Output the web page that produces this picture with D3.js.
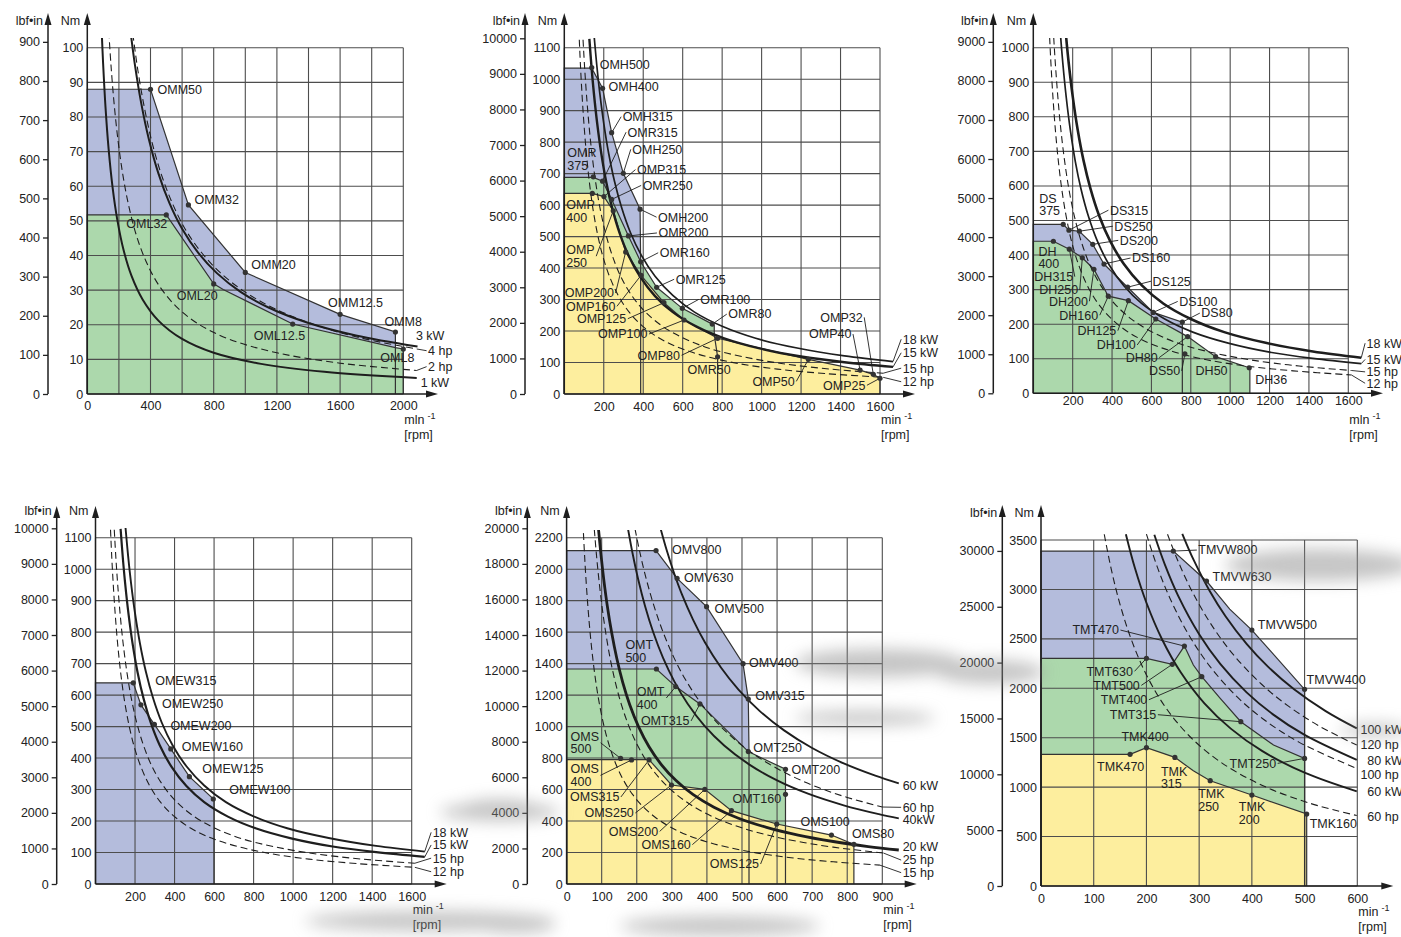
<!DOCTYPE html>
<html>
<head>
<meta charset="utf-8">
<script src="https://cdn.jsdelivr.net/npm/d3@7"></script>
<style>
  body { margin: 0; background: #fff; }
  text { font-family: Arial, "Liberation Sans", sans-serif; fill: #222; }
</style>
</head>
<body>
<svg id="chart" width="1401" height="937"></svg>
<script>
const LBF = 8.8507; // lbf-in per Nm

// ---------- panel 1 : OMM / OML ----------
const p1Blue  = [[0,0],[0,88],[400,88],[640,54.6],[1000,35.1],[1600,23],[1950,17.9],[1950,0]];
const p1Green = [[0,0],[0,51.7],[500,51.7],[800,31.8],[860,30.2],[1300,20.2],[1950,13.4],[2000,13],[2000,0]];
const p1Dots = [["OMM50",400,88],["OMM32",640,54.6],["OMM20",1000,35.1],["OMM12.5",1600,23],["OMM8",1950,17.9],
                ["OML32",500,51.7],["OML20",800,31.8],["OML12.5",1300,20.2],["OML8",2000,13]];
const kw1 = [[91,104.9],[100,95.5],[115,83],[135,70.7],[160,59.7],[190,50.3],[230,41.5],[280,34.1],[350,27.3],[450,21.2],[600,15.9],[800,11.9],[1100,8.7],[1500,6.4],[2085,4.6]];
const hp2 = [[136,104.7],[150,94.9],[170,83.7],[195,73],[225,63.3],[260,54.8],[310,45.9],[370,38.5],[450,31.6],[560,25.4],[700,20.3],[900,15.8],[1200,11.9],[1600,8.9],[2085,6.8]];
const kw3 = [[273,104.9],[300,95.5],[340,84.3],[390,73.5],[450,63.7],[520,55.1],[600,47.7],[700,40.9],[820,34.9],[970,29.5],[1150,24.9],[1400,20.5],[1700,16.9],[2090,13.7]];
const hp4 = [[288,104],[320,93.5],[360,83],[410,72.6],[470,63.2],[540,54.9],[620,47.6],[720,41],[840,35.1],[990,29.7],[1170,25],[1420,20.3],[1720,16.3],[2085,13]];
const p1Power = [["3 kW",2080,17],["4 hp",2157,12.5],["2 hp",2157,7.9],["1 kW",2110,3.4]];
const p1XTicks = [0,400,800,1200,1600,2000];
const p1NmTicks = d3.range(0, 101, 10);
const p1LbfTicks = d3.range(0, 901, 100);

// ---------- shared 18/15 kW, 15/12 hp curves (panels 2-4) ----------
const kw18 = [[152,1131],[165,1042],[180,955],[200,860],[225,764],[255,674],[290,593],[335,513],[390,441],[460,374],[550,313],[660,260],[800,215],[970,177],[1180,146],[1420,121],[1666,103]];
const kw15 = [[127,1128],[138,1038],[150,955],[167,858],[188,762],[213,672],[242,592],[280,512],[325,441],[385,372],[460,311],[550,260],[670,214],[810,177],[990,145],[1200,119],[1420,101],[1666,86]];
const hp15 = [[95,1125],[103,1037],[112,954],[125,855],[140,763],[160,668],[182,587],[210,509],[243,440],[287,372],[345,310],[410,261],[500,214],[605,177],[740,144],[900,119],[1100,97],[1350,79],[1616,66]];
const hp12 = [[76,1125],[82,1042],[90,950],[100,855],[112,763],[128,668],[146,585],[168,509],[195,438],[230,372],[275,311],[330,259],[400,214],[485,176],[590,145],[720,119],[880,97],[1080,79],[1320,65],[1616,53]];

// ---------- panel 2 : OMH / OMR / OMP ----------
const p2Blue   = [[0,0],[0,1035],[139,1035],[194,971],[240,830],[299,701],[384,587],[387,420],[387,0]];
const p2Green  = [[0,0],[0,688],[147,688],[194,676],[240,618],[325,502],[387,420],[468,339],[598,272],[750,222],[760,217],[760,188],[777,118],[777,0]];
const p2Yellow = [[0,0],[0,637],[142,637],[201,627],[248,582],[311,451],[389,377],[505,290],[607,235],[777,177],[1237,110],[1499,76],[1566,62.5],[1600,50],[1600,0]];
const p2Dots = [["OMH500",139,1037],["OMH400",194,971],["OMH315",240,830],["OMH250",299,701],["OMH200",384,587],
  ["OMR\n375",147,690],["OMR315",194,676],["OMR250",240,618],["OMR200",325,502],["OMR160",387,420],["OMR125",468,339],
  ["OMR100",598,272],["OMR80",750,222],["OMR50",777,118],
  ["OMP\n400",142,637],["OMP315",201,627],["OMP\n250",248,582],["OMP200",311,451],["OMP160",389,377],["OMP125",505,290],
  ["OMP100",607,235],["OMP80",777,177],["OMP50",1237,110],["OMP40",1499,76],["OMP32",1566,62.5],["OMP25",1600,50]];
const p2Power = [["18 kW",1715,174],["15 kW",1715,131],["15 hp",1715,82],["12 hp",1715,39]];
const p2XTicks = d3.range(200, 1601, 200);
const p2NmTicks = d3.range(0, 1101, 100);
const p2LbfTicks = d3.range(0, 10001, 1000);

// ---------- panel 3 : DS / DH ----------
const p3Blue  = [[0,0],[0,489],[152,489],[181,472],[234,469],[302,431],[359,374],[479,307],[609,234],[757,206],[757,0]];
const p3Green = [[0,0],[0,440],[102,440],[183,417],[249,392],[308,359],[381,281],[483,268],[622,215],[784,164],[926,106],[1097,74],[1100,74],[1100,0]];
const p3Dots = [["DS\n375",152,489],["DS315",181,472],["DS250",234,469],["DS200",302,431],["DS160",359,374],["DS125",479,307],
  ["DS100",609,234],["DS80",757,206],["DS50",770,114],
  ["DH\n400",102,440],["DH315",183,417],["DH250",249,392],["DH200",308,359],["DH160",381,281],["DH125",483,268],
  ["DH100",622,215],["DH80",784,164],["DH50",926,106],["DH36",1097,74]];
const p3Power = [["18 kW",1693,145],["15 kW",1693,98],["15 hp",1693,62],["12 hp",1693,29]];
const p3NmTicks = d3.range(0, 1001, 100);
const p3LbfTicks = d3.range(0, 9001, 1000);

// ---------- panel 4 : OMEW ----------
const p4Blue = [[0,0],[0,639],[191,639],[230,569],[298,507],[381,429],[475,341],[596,270],[600,270],[600,0]];
const p4Dots = [["OMEW315",191,639],["OMEW250",230,569],["OMEW200",298,507],["OMEW160",381,429],["OMEW125",475,341],["OMEW100",596,270]];
const p4Power = [["18 kW",1706,164],["15 kW",1706,124],["15 hp",1706,82],["12 hp",1706,39]];

// ---------- panel 5 : OMV / OMT / OMS ----------
const p5Blue   = [[0,0],[0,2118],[255,2118],[315,1942],[399,1762],[503,1400],[518,1175],[520,841],[520,0]];
const p5Green  = [[0,0],[0,1366],[256,1366],[311,1254],[380,1144],[518,841],[624,729],[624,0]];
const p5Yellow = [[0,0],[0,790],[235,790],[299,629],[394,601],[470,466],[599,381],[755,311],[819,252],[819,0]];
const p5Dots = [["OMV800",255,2118],["OMV630",315,1942],["OMV500",399,1762],["OMV400",503,1400],["OMV315",518,1175],
  ["OMT\n500",256,1366],["OMT\n400",311,1254],["OMT315",380,1144],["OMT250",518,841],["OMT200",624,729],["OMT160",624,570],
  ["OMS\n500",154,798],["OMS\n400",185,788],["OMS315",235,788],["OMS250",299,629],["OMS200",394,601],["OMS160",470,466],
  ["OMS125",599,381],["OMS100",755,311],["OMS80",819,252]];
const kw60a = [[268,2257],[285,2123],[305,1984],[330,1833],[360,1681],[395,1532],[440,1375],[490,1235],[550,1100],[620,976],[700,864],[790,766],[880,688],[947,639]];
const hp60a = [[195,2256],[210,2095],[228,1930],[250,1760],[275,1600],[305,1443],[340,1294],[385,1143],[435,1011],[495,889],[565,779],[640,688],[720,611],[800,550],[900,489]];
const kw40  = [[175,2257],[188,2101],[204,1936],[224,1763],[247,1599],[275,1436],[307,1287],[345,1145],[392,1008],[450,878],[520,760],[600,658],[690,572],[790,500],[890,444],[947,417]];
const kw20  = [[91,2253],[98,2092],[106,1934],[116,1767],[128,1602],[143,1434],[160,1281],[180,1139],[205,1000],[235,872],[270,759],[312,657],[360,569],[420,488],[490,418],[570,360],[660,311],[760,270],[860,238],[947,216]];
const hp25  = [[79,2253],[85,2094],[92,1935],[101,1762],[111,1604],[124,1435],[139,1281],[156,1141],[178,1000],[204,873],[235,757],[271,657],[313,569],[365,488],[426,418],[495,360],[572,311],[660,270],[760,234],[903,197]];
const hp15b = [[48,2229],[51,2098],[55,1945],[61,1754],[67,1597],[75,1427],[84,1274],[94,1138],[107,1000],[122,877],[141,759],[163,656],[188,569],[219,489],[256,418],[297,360],[344,311],[396,270],[460,233],[540,198],[640,167],[760,141],[893,120]];
const p5Power = [["60 kW",958,623],["60 hp",958,487],["40kW",958,411],["20 kW",958,237],["25 hp",958,152],["15 hp",958,72]];
const p5XTicks = d3.range(0, 901, 100);
const p5NmTicks = d3.range(0, 2201, 200);
const p5LbfTicks = d3.range(0, 20001, 2000);

// ---------- panel 6 : TMVW / TMT / TMK ----------
const p6Blue   = [[0,0],[0,3388],[251,3388],[314,3085],[358,2800],[400,2589],[500,1989],[500,0]];
const p6Green  = [[0,0],[0,2303],[200,2303],[249,2242],[272,2427],[289,2235],[305,2117],[340,1898],[379,1662],[441,1426],[500,1291],[500,0]];
const p6Yellow = [[0,0],[0,1332],[169,1332],[200,1399],[254,1301],[289,1165],[321,1065],[400,920],[504,728],[504,0]];
const p6Dots = [["TMVW800",251,3388],["TMVW630",314,3085],["TMVW500",400,2589],["TMVW400",500,1989],
  ["TMT470",272,2427],["TMT630",200,2303],["TMT500",249,2242],["TMT400",305,2117],["TMT315",379,1662],["TMT250",500,1291],
  ["TMK400",200,1399],["TMK470",169,1332],["TMK\n315",254,1301],["TMK\n250",321,1065],["TMK\n200",400,920],["TMK160",504,728]];
const kw100 = [[268,3563],[290,3293],[320,2984],[350,2729],[390,2449],[430,2221],[480,1990],[540,1769],[599,1594]];
const hp120 = [[240,3558],[260,3285],[290,2945],[330,2588],[370,2308],[420,2033],[470,1817],[530,1611],[599,1426]];
const kw80  = [[215,3553],[235,3251],[260,2938],[300,2547],[340,2247],[390,1959],[440,1736],[500,1528],[599,1275]];
const hp100 = [[200,3560],[220,3236],[245,2906],[280,2543],[320,2225],[370,1924],[420,1695],[490,1453],[599,1189]];
const kw60b = [[161,3559],[178,3219],[200,2865],[230,2491],[265,2162],[310,1848],[360,1592],[420,1364],[500,1146],[599,957]];
const hp60b = [[120,3558],[133,3211],[150,2847],[172,2483],[200,2135],[235,1817],[280,1525],[340,1256],[420,1017],[510,837],[599,713]];
const p6Power = [["100 kW",606,1585],["120 hp",606,1426],["80 kW",619,1267],["100 hp",606,1130],["60 kW",619,954],["60 hp",619,701]];
const p6XTicks = d3.range(0, 601, 100);
const p6NmTicks = d3.range(0, 3501, 500);
const p6LbfTicks = d3.range(0, 30001, 5000);

// ---------- label layout (pixel offsets from the dot, leader flag) ----------
const p1Offs = [[7,0,0],[6,-5,0],[6,-8,0],[-12,-12,0],[-11,-10,0],[-40,9,0],[-37,12,0],[-39,12,0],[-23,9,0]];
const p2Offs = [[8,-3,0],[6,-2,0],[11,-16,1],[9,-24,1],[18,8,1],
  [-26,-24,0],[25,-49,1],[31,-14,1],[30,-3,1],[19,-9,1],[19,-8,1],[18,-9,1],[16,-10,1],[-30,13,0],
  [-26,11,0],[33,-27,1],[-47,39,1],[-61,41,1],[-75,31,1],[-87,16,1],[-86,14,1],[-80,17,1],[-56,22,1],[-51,-36,1],[-53,-57,1],[-57,7,1]];
const p3Offs = [[-24,-26,0],[41,-20,1],[35,-5,1],[27,-4,1],[28,-6,1],[25,-6,1],[26,-11,1],[19,-9,1],[-36,17,1],
  [-15,10,0],[-35,27.5,1],[-43,32,1],[-45,32,1],[-49,19,1],[-51,30,1],[-59,26,1],[-62,21,1],[-20,14,0],[6,12,0]];
const p4Offs = [[22,-2,0],[21,-1,0],[16,1,0],[11,-2,0],[13,-8,0],[16,-9,0]];
const p5Offs = [[16,-1,0],[7,-1,0],[8,2,0],[6,-1,0],[7,-3,0],
  [-31,-24,0],[-39,5,1],[-59,17,1],[5,-4,0],[6,0,0],[-53,4,0],
  [-50,-22,1],[-61,9,1],[-79,37,1],[-87,28,1],[-96,42,1],[-90,34,1],[-67,40,1],[-31,-13,0],[-2,-11,0]];
const p6Offs = [[25,-1,1],[6,-4,0],[6,-5,0],[2,-10,0],
  [-112,-16,1],[-60,13,1],[-79,21,1],[-101,23,1],[-131,-7,1],[-75,5,1],
  [-25,-11,0],[-33,12,0],[-14,14,0],[-12,13,0],[-13,12,0],[3,10,0]];

const BLUE = "#b4bcdc", GREEN = "#acd8ac", YELLOW = "#fdee9e", GRID = "#4d4d4d", INK = "#1e1e1e";
const FS = 12.5;

const svg = d3.select("#chart");
const defs = svg.append("defs");
defs.append("filter").attr("id", "blur").attr("x", "-50%").attr("y", "-50%").attr("width", "200%").attr("height", "200%")
  .append("feGaussianBlur").attr("stdDeviation", 8);

function drawPanel(c) {
  const x = d3.scaleLinear().domain([0, c.xMax]).range([c.x0, c.x1]);
  const y = d3.scaleLinear().domain([0, c.yMax]).range([c.y0, c.y1]);
  const yl = d3.scaleLinear().domain([0, c.yMax * LBF]).range([c.y0, c.y1]);
  const g = svg.append("g");
  const poly = d3.line().x(d => x(d[0])).y(d => y(d[1]));

  // coloured operating areas
  c.fills.forEach(f => g.append("path").attr("d", poly(f[0]) + "Z").attr("fill", f[1]));

  // grid
  g.selectAll(null).data(d3.range(0, c.xMax + 1e-6, c.xGrid)).join("line")
    .attr("x1", d => x(d)).attr("x2", d => x(d)).attr("y1", c.y0).attr("y2", c.y1)
    .attr("stroke", GRID).attr("stroke-width", 1.1);
  g.selectAll(null).data(d3.range(0, c.yMax + 1e-6, c.yGrid)).join("line")
    .attr("y1", d => y(d)).attr("y2", d => y(d)).attr("x1", c.x0).attr("x2", c.x1)
    .attr("stroke", GRID).attr("stroke-width", 1.1);

  c.fills.forEach(f => g.append("path").attr("d", poly(f[0])).attr("fill", "none")
    .attr("stroke", "#333").attr("stroke-width", 1.2));

  // power curves
  const cid = "clip" + c.id;
  defs.append("clipPath").attr("id", cid).append("rect")
    .attr("x", c.x0).attr("y", c.clipTop).attr("width", 600).attr("height", c.y0 - c.clipTop);
  const curve = d3.line().x(d => x(d[0])).y(d => y(d[1])).curve(d3.curveCatmullRom);
  c.curves.forEach(([pts, dashed, w]) => g.append("path").attr("d", curve(pts))
    .attr("clip-path", `url(#${cid})`).attr("fill", "none").attr("stroke", INK)
    .attr("stroke-width", w).attr("stroke-dasharray", dashed ? "7,4" : null));

  c.power.forEach(([t, r, v], i) => {
    const pts = c.curves[i][0], last = pts[pts.length - 1];
    if (c.curves[i][3]) g.append("line").attr("x1", x(last[0])).attr("y1", y(last[1]))
      .attr("x2", x(r) - 1.5).attr("y2", y(v)).attr("stroke", INK).attr("stroke-width", 0.9);
    g.append("text").attr("x", x(r)).attr("y", y(v)).attr("dy", "0.35em").attr("font-size", FS).text(t);
  });

  // model points and names
  c.dots.forEach(([name, r, v], i) => {
    const [dx, dy, lead] = c.offs[i];
    const cx = x(r), cy = y(v);
    const lines = name.split("\n");
    const txt = g.append("text").attr("font-size", FS);
    lines.forEach((s, j) => txt.append("tspan").attr("x", cx + dx).attr("y", cy + dy + j * 12.7).attr("dy", "0.35em").text(s));
    if (lead) {
      const b = txt.node().getBBox();
      const lx = dx > 0 ? b.x - 1.5 : b.x + b.width + 1.5;
      const ly = cy + dy + (lines.length > 1 ? 6.4 : 0);
      g.append("line").attr("x1", cx).attr("y1", cy).attr("x2", lx).attr("y2", ly)
        .attr("stroke", INK).attr("stroke-width", 0.9);
    }
  });
  g.selectAll(null).data(c.dots).join("circle")
    .attr("cx", d => x(d[1])).attr("cy", d => y(d[2])).attr("r", 2.6).attr("fill", "#333");

  // axes
  const styleAxis = a => a.attr("font-size", FS).attr("font-family", 'Arial, "Liberation Sans", sans-serif')
    .attr("color", "#222").call(s => s.select(".domain").remove());
  g.append("g").attr("transform", `translate(0,${c.y0})`)
    .call(d3.axisBottom(x).tickValues(c.xTicks).tickSize(0).tickPadding(c.xPad).tickFormat(d3.format("d")))
    .call(styleAxis);
  g.append("g").attr("transform", `translate(${c.x0},0)`)
    .call(d3.axisLeft(y).tickValues(c.nmTicks).tickSize(0).tickPadding(4).tickFormat(d3.format("d")))
    .call(styleAxis);
  g.append("g").attr("transform", `translate(${c.lbfX},0)`)
    .call(d3.axisLeft(yl).tickValues(c.lbfTicks).tickSize(5).tickPadding(3).tickFormat(d3.format("d")))
    .call(styleAxis).call(a => a.selectAll("line").attr("stroke-width", 1.3));

  const ax = g.append("g").attr("stroke", INK).attr("stroke-width", 1.5);
  [c.lbfX, c.x0].forEach(ax0 => {
    ax.append("line").attr("x1", ax0).attr("x2", ax0).attr("y1", c.y0).attr("y2", c.arrowTop + 8);
    g.append("path").attr("fill", INK)
      .attr("d", `M${ax0},${c.arrowTop}L${ax0 - 3.5},${c.arrowTop + 12}L${ax0 + 3.5},${c.arrowTop + 12}Z`);
  });
  ax.append("line").attr("x1", c.x0).attr("x2", c.xArrow - 8).attr("y1", c.y0).attr("y2", c.y0);
  g.append("path").attr("fill", INK)
    .attr("d", `M${c.xArrow},${c.y0}L${c.xArrow - 12},${c.y0 - 3.5}L${c.xArrow - 12},${c.y0 + 3.5}Z`);

  g.append("text").attr("x", c.lbfX - 5).attr("y", c.headY).attr("dy", "0.35em")
    .attr("text-anchor", "end").attr("font-size", FS).text("lbf•in");
  g.append("text").attr("x", c.x0 - 7).attr("y", c.headY).attr("dy", "0.35em")
    .attr("text-anchor", "end").attr("font-size", FS).text("Nm");
  const m = g.append("text").attr("x", c.x1 + 1).attr("y", c.y0 + 26).attr("dy", "0.35em").attr("font-size", FS);
  m.append("tspan").text(c.minText);
  m.append("tspan").attr("dx", 3).attr("dy", -5).attr("font-size", 9).text("-1");
  g.append("text").attr("x", c.x1 + 1).attr("y", c.y0 + 41).attr("dy", "0.35em").attr("font-size", FS).text("[rpm]");
}

drawPanel({ id: 1, x0: 87.3, x1: 403.3, y0: 394, y1: 47.7, xMax: 2000, yMax: 100, xGrid: 200, yGrid: 10,
  xTicks: p1XTicks, nmTicks: p1NmTicks, lbfTicks: p1LbfTicks, lbfX: 48, arrowTop: 13, headY: 21, xArrow: 438,
  xPad: 7.6, clipTop: 38, minText: "mln",
  fills: [[p1Blue, BLUE], [p1Green, GREEN]],
  curves: [[kw3, false, 2, 0], [hp4, true, 1.1, 1], [hp2, true, 1.1, 1], [kw1, false, 2, 0]],
  power: p1Power, dots: p1Dots, offs: p1Offs });

drawPanel({ id: 2, x0: 564.3, x1: 880, y0: 394, y1: 47.7, xMax: 1600, yMax: 1100, xGrid: 200, yGrid: 100,
  xTicks: p2XTicks, nmTicks: p2NmTicks, lbfTicks: p2LbfTicks, lbfX: 525, arrowTop: 13, headY: 21, xArrow: 915,
  xPad: 8.3, clipTop: 38, minText: "min",
  fills: [[p2Blue, BLUE], [p2Green, GREEN], [p2Yellow, YELLOW]],
  curves: [[kw18, false, 1.7, 1], [kw15, false, 2.4, 1], [hp15, true, 1.1, 1], [hp12, true, 1.1, 1]],
  power: p2Power, dots: p2Dots, offs: p2Offs });

drawPanel({ id: 3, x0: 1033.3, x1: 1348.3, y0: 393.3, y1: 47.7, xMax: 1600, yMax: 1000, xGrid: 200, yGrid: 100,
  xTicks: p2XTicks, nmTicks: p3NmTicks, lbfTicks: p3LbfTicks, lbfX: 993.3, arrowTop: 13, headY: 21, xArrow: 1383,
  xPad: 3.3, clipTop: 38, minText: "mln",
  fills: [[p3Blue, BLUE], [p3Green, GREEN]],
  curves: [[kw18, false, 2.6, 1], [kw15, false, 1.7, 1], [hp15, true, 1.1, 1], [hp12, true, 1.1, 1]],
  power: p3Power, dots: p3Dots, offs: p3Offs });

drawPanel({ id: 4, x0: 95.5, x1: 411.7, y0: 884, y1: 537.7, xMax: 1600, yMax: 1100, xGrid: 200, yGrid: 100,
  xTicks: p2XTicks, nmTicks: p2NmTicks, lbfTicks: p2LbfTicks, lbfX: 56.7, arrowTop: 506, headY: 511, xArrow: 446.7,
  xPad: 8.3, clipTop: 528, minText: "min",
  fills: [[p4Blue, BLUE]],
  curves: [[kw18, false, 1.9, 1], [kw15, false, 2.2, 1], [hp15, true, 1.1, 1], [hp12, true, 1.1, 1]],
  power: p4Power, dots: p4Dots, offs: p4Offs });

drawPanel({ id: 5, x0: 566.6, x1: 882.3, y0: 884, y1: 537.7, xMax: 900, yMax: 2200, xGrid: 100, yGrid: 200,
  xTicks: p5XTicks, nmTicks: p5NmTicks, lbfTicks: p5LbfTicks, lbfX: 527.3, arrowTop: 506, headY: 511, xArrow: 916.7,
  xPad: 8.3, clipTop: 530, minText: "min",
  fills: [[p5Blue, BLUE], [p5Green, GREEN], [p5Yellow, YELLOW]],
  curves: [[kw60a, false, 1.9, 0], [hp60a, true, 1.1, 1], [kw40, false, 1.9, 0], [kw20, false, 2.8, 0], [hp25, true, 1.1, 1], [hp15b, true, 1.1, 1]],
  power: p5Power, dots: p5Dots, offs: p5Offs });

drawPanel({ id: 6, x0: 1041, x1: 1357.3, y0: 886, y1: 540, xMax: 600, yMax: 3500, xGrid: 100, yGrid: 500,
  xTicks: p6XTicks, nmTicks: p6NmTicks, lbfTicks: p6LbfTicks, lbfX: 1002.3, arrowTop: 505, headY: 513, xArrow: 1393.3,
  xPad: 8.6, clipTop: 533, minText: "min",
  fills: [[p6Blue, BLUE], [p6Green, GREEN], [p6Yellow, YELLOW]],
  curves: [[kw100, false, 1.9, 0], [hp120, true, 1.1, 0], [kw80, false, 1.9, 0], [hp100, true, 1.1, 0], [kw60b, false, 1.9, 0], [hp60b, true, 1.1, 0]],
  power: p6Power, dots: p6Dots, offs: p6Offs });

// soft grey smudges of the scanned sheet
const smudges = [[500,812,60,9],[430,921,125,10],[720,926,100,10],[880,663,85,14],[865,718,70,7],[500,806,35,7],
                 [1320,565,95,16],[990,672,55,12],[1375,730,35,6],[515,925,40,8]];
svg.append("g").attr("filter", "url(#blur)").attr("opacity", 0.5)
  .selectAll("ellipse").data(smudges).join("ellipse")
  .attr("cx", d => d[0]).attr("cy", d => d[1]).attr("rx", d => d[2]).attr("ry", d => d[3]).attr("fill", "#8c8c8c");
</script>
</body>
</html>
